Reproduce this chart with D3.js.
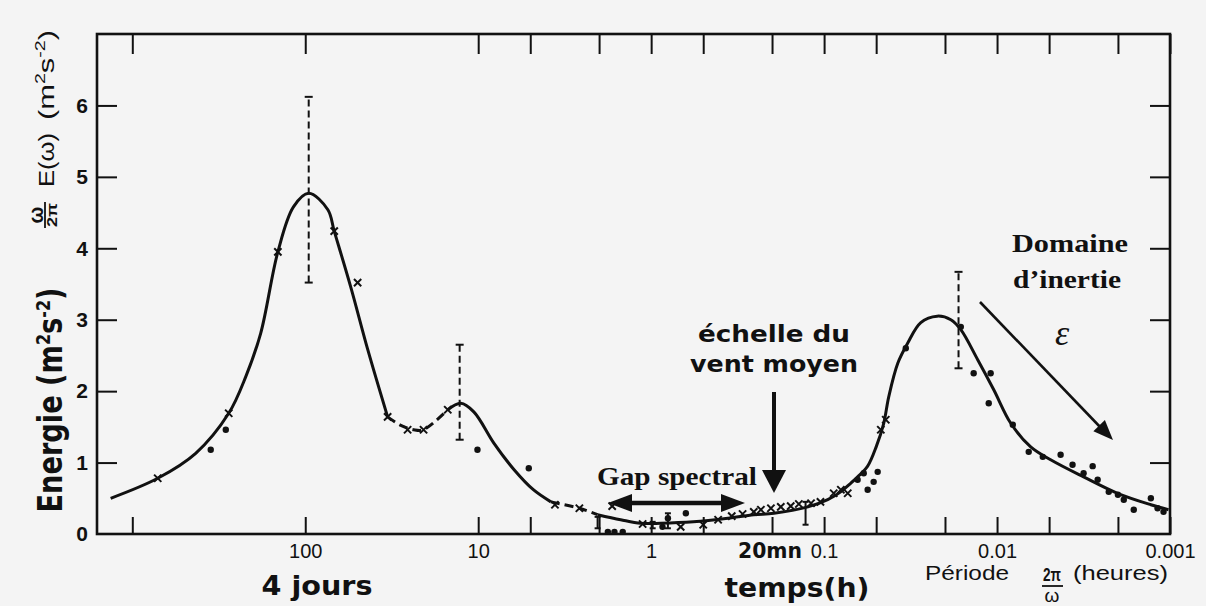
<!DOCTYPE html>
<html><head><meta charset="utf-8">
<script src="https://cdn.jsdelivr.net/npm/d3@7"></script>
<style>body{margin:0;background:#f4f4f4;} svg{display:block}</style>
</head><body><svg id="c" width="1206" height="606"></svg>
<script>
// ---- data (period in hours, energy in m2 s-2) ----
const curvePeriod = [1334, 713, 430, 277, 221, 181, 144, 117, 95.5, 74, 68, 54.6, 43.5, 33.4, 28, 23.6, 20.7, 15.0, 12.6, 10.6, 8.1, 6.2, 4.8, 3.8, 2.6, 2.04, 1.50, 1.15, 0.88, 0.57, 0.36, 0.255, 0.195, 0.124, 0.0953, 0.0802, 0.0702, 0.064, 0.056, 0.050, 0.0452, 0.0423, 0.0375, 0.0329, 0.0276, 0.0222, 0.0185, 0.0162, 0.01294, 0.01045, 0.00833, 0.00639, 0.0049, 0.00316, 0.00201, 0.00129, 0.00102];
const curveEnergy = [0.50, 0.78, 1.13, 1.69, 2.20, 2.81, 3.95, 4.58, 4.77, 4.54, 4.24, 3.46, 2.58, 1.64, 1.52, 1.46, 1.46, 1.74, 1.83, 1.71, 1.27, 0.90, 0.62, 0.45, 0.36, 0.27, 0.20, 0.15, 0.15, 0.17, 0.22, 0.27, 0.29, 0.38, 0.48, 0.59, 0.71, 0.80, 0.95, 1.22, 1.55, 1.92, 2.39, 2.67, 2.96, 3.05, 3.00, 2.86, 2.44, 2.02, 1.55, 1.22, 1.04, 0.80, 0.57, 0.41, 0.34];
const dashedRanges = [[33.4, 15.0], [3.8, 2.04]];

const dotPeriod = [352, 288, 10.1, 5.1, 1.78, 1.63, 1.46, 0.80, 0.63, 0.86, 0.064, 0.059, 0.056, 0.0517, 0.049, 0.0337, 0.0162, 0.01365, 0.01089, 0.01117, 0.00811, 0.00656, 0.00544, 0.00429, 0.00366, 0.00316, 0.0028, 0.00262, 0.00226, 0.0020, 0.00185, 0.00162, 0.00129, 0.00118, 0.00109];
const dotEnergy = [1.18, 1.46, 1.18, 0.92, 0.03, 0.03, 0.03, 0.22, 0.29, 0.10, 0.76, 0.85, 0.62, 0.73, 0.87, 2.60, 2.90, 2.25, 2.25, 1.83, 1.53, 1.15, 1.08, 1.11, 0.97, 0.85, 0.95, 0.76, 0.59, 0.55, 0.48, 0.34, 0.50, 0.36, 0.31];

const crossPeriod = [713, 277, 144, 68, 49.8, 33.4, 25.6, 20.7, 15.0, 3.6, 2.6, 1.68, 1.12, 0.675, 0.50, 0.41, 0.342, 0.296, 0.255, 0.232, 0.203, 0.178, 0.156, 0.140, 0.119, 0.105, 0.088, 0.080, 0.073, 0.047, 0.044];
const crossEnergy = [0.78, 1.69, 3.95, 4.24, 3.52, 1.64, 1.46, 1.46, 1.74, 0.41, 0.36, 0.39, 0.14, 0.10, 0.13, 0.20, 0.25, 0.28, 0.31, 0.34, 0.36, 0.38, 0.39, 0.42, 0.43, 0.45, 0.57, 0.62, 0.57, 1.46, 1.60];

const bigErrPeriod = [95.5, 12.8, 0.0167];
const bigErrLow = [3.52, 1.32, 2.32];
const bigErrHigh = [6.12, 2.65, 3.67];

const smallErrPeriod = [2.04, 0.98, 0.80, 0.128];
const smallErrLow = [0.08, 0.08, 0.08, 0.13];
const smallErrHigh = [0.24, 0.17, 0.29, 0.45];

const xTickValues = [1000, 100, 10, 5, 2, 1, 0.5, 0.2, 0.1, 0.05, 0.02, 0.01, 0.005, 0.002, 0.001];
const xTickLabels = ["", "100", "10", "", "", "1", "", "", "0.1", "", "", "0.01", "", "", "0.001"];
const yTickValues = [0, 1, 2, 3, 4, 5, 6];

// ---- scales ----
const svg = d3.select("#c");
const x = d3.scaleLog().domain([1600, 0.001]).range([97, 1170]);
const y = d3.scaleLinear().domain([0, 7]).range([534, 34]);
const INK = "#111";

// frame
svg.append("rect").attr("x", 97).attr("y", 34).attr("width", 1170 - 97).attr("height", 500)
  .attr("fill", "none").attr("stroke", INK).attr("stroke-width", 2.6);

// axes
const labelOf = v => xTickLabels[xTickValues.indexOf(v)];
const gxb = svg.append("g").attr("transform", "translate(0,534)")
  .call(d3.axisBottom(x).tickValues(xTickValues).tickSizeInner(-17).tickSizeOuter(0).tickPadding(10).tickFormat(labelOf));
const gxt = svg.append("g").attr("transform", "translate(0,34)")
  .call(d3.axisTop(x).tickValues(xTickValues).tickSizeInner(-20).tickSizeOuter(0).tickFormat(""));
const gyl = svg.append("g").attr("transform", "translate(97,0)")
  .call(d3.axisLeft(y).tickValues(yTickValues).tickSizeInner(-20).tickSizeOuter(0).tickPadding(9).tickFormat(d3.format("d")));
const gyr = svg.append("g").attr("transform", "translate(1170,0)")
  .call(d3.axisRight(y).tickValues(yTickValues.slice(1)).tickSizeInner(-20).tickSizeOuter(0).tickFormat(""));
[gxb, gxt, gyl, gyr].forEach(g => {
  g.select(".domain").remove();
  g.selectAll(".tick line").attr("stroke", INK).attr("stroke-width", 2);
});
gxb.selectAll(".tick text").attr("font-family", "Liberation Sans, Arial, sans-serif").attr("font-size", 20).attr("fill", INK);
gyl.selectAll(".tick text").attr("font-family", "Liberation Sans, Arial, sans-serif").attr("font-size", 21).attr("font-weight", "bold").attr("fill", INK);
gyl.selectAll(".tick").filter(d => d === 0).select("line").remove();

// curve
const pts = curvePeriod.map((p, i) => ({p, e: curveEnergy[i]}));
const line = d3.line().x(d => x(d.p)).y(d => y(d.e)).curve(d3.curveCatmullRom.alpha(0.5));
const cuts = [pts[0].p, ...dashedRanges.flat(), pts[pts.length - 1].p];
for (let k = 0; k < cuts.length - 1; k++) {
  const hi = cuts[k], lo = cuts[k + 1];
  const seg = pts.filter(d => d.p <= hi && d.p >= lo);
  svg.append("path").attr("d", line(seg)).attr("fill", "none").attr("stroke", INK)
    .attr("stroke-width", 3).attr("stroke-linejoin", "round")
    .attr("stroke-dasharray", k % 2 === 1 ? "9,5" : null);
}

// big dashed error bars
bigErrPeriod.forEach((p, i) => {
  const g = svg.append("g").attr("stroke", INK).attr("stroke-width", 2);
  g.append("line").attr("x1", x(p)).attr("x2", x(p)).attr("y1", y(bigErrLow[i])).attr("y2", y(bigErrHigh[i]))
    .attr("stroke-dasharray", "7,4");
  [bigErrLow[i], bigErrHigh[i]].forEach(v => g.append("line").attr("x1", x(p) - 4).attr("x2", x(p) + 4).attr("y1", y(v)).attr("y2", y(v)));
});
// small solid error bars
smallErrPeriod.forEach((p, i) => {
  const g = svg.append("g").attr("stroke", INK).attr("stroke-width", 2);
  g.append("line").attr("x1", x(p)).attr("x2", x(p)).attr("y1", y(smallErrLow[i])).attr("y2", y(smallErrHigh[i]));
  [smallErrLow[i], smallErrHigh[i]].forEach(v => g.append("line").attr("x1", x(p) - 3).attr("x2", x(p) + 3).attr("y1", y(v)).attr("y2", y(v)));
});

// dots
svg.append("g").selectAll("circle").data(dotPeriod).join("circle")
  .attr("cx", d => x(d)).attr("cy", (d, i) => y(dotEnergy[i])).attr("r", 3.2).attr("fill", INK);
// crosses
const sym = d3.symbol().type(d3.symbolX).size(36);
svg.append("g").selectAll("path").data(crossPeriod).join("path")
  .attr("transform", (d, i) => `translate(${x(d)},${y(crossEnergy[i])})`)
  .attr("d", sym).attr("fill", "none").attr("stroke", INK).attr("stroke-width", 2);

// ---- texts ----
const HEAVY = "DejaVu Sans, Liberation Sans, sans-serif";
const SERIF = "Liberation Serif, Times New Roman, serif";
const SANS = "Liberation Sans, Arial, sans-serif";
function txt(s, px, py, size, fam, weight, len, anchor) {
  const t = svg.append("text").attr("x", px).attr("y", py).attr("font-size", size)
    .attr("font-family", fam).attr("font-weight", weight || "normal").attr("fill", INK)
    .attr("text-anchor", anchor || "middle").text(s);
  if (len) t.attr("textLength", len).attr("lengthAdjust", "spacingAndGlyphs");
  return t;
}
txt("4 jours", 317, 595, 26, HEAVY, "bold", 111);
txt("temps(h)", 797, 597, 26, HEAVY, "bold", 145);
txt("20mn", 770, 558, 21, HEAVY, "bold", 64);
txt("Période", 925, 580, 20, SANS, "normal", 84, "start");
txt("(heures)", 1073, 580, 20, SANS, "normal", 95, "start");
txt("2π", 1052, 581, 18, SANS, "bold", 18);
svg.append("line").attr("x1", 1042).attr("x2", 1063).attr("y1", 586).attr("y2", 586).attr("stroke", INK).attr("stroke-width", 1.8);
txt("ω", 1052, 602, 19, SANS, "normal");

txt("échelle du", 774, 342, 23, HEAVY, "bold", 152);
txt("vent moyen", 774, 372, 23, HEAVY, "bold", 168);
txt("Gap spectral", 677, 485, 26, SERIF, "bold", 160);
txt("Domaine", 1070, 252, 26, SERIF, "bold", 116);
txt("d’inertie", 1067, 288, 26, SERIF, "bold", 108);
txt("ε", 1062, 345, 36, SERIF, "normal").attr("font-style", "italic");

// arrows
function head(tx, ty, ang, len, half) {
  const c = Math.cos(ang), s = Math.sin(ang);
  const bx = tx - c * len, by = ty - s * len;
  svg.append("path").attr("d", `M${tx},${ty}L${bx - s * half},${by + c * half}L${bx + s * half},${by - c * half}Z`).attr("fill", INK);
}
svg.append("line").attr("x1", 625).attr("x2", 730).attr("y1", 503).attr("y2", 503).attr("stroke", INK).attr("stroke-width", 4.5);
head(608, 503, Math.PI, 24, 9);
head(745, 503, 0, 24, 9);
svg.append("line").attr("x1", 774).attr("x2", 774).attr("y1", 392).attr("y2", 472).attr("stroke", INK).attr("stroke-width", 4);
head(774, 493, Math.PI / 2, 23, 12);
const ang = Math.atan2(440 - 302, 1113 - 980);
svg.append("line").attr("x1", 980).attr("y1", 302).attr("x2", 1103).attr("y2", 430).attr("stroke", INK).attr("stroke-width", 2.6);
head(1113, 440, ang, 20, 8);

// y title (bold)
const yt = svg.append("text").attr("transform", "translate(62,400) rotate(-90)")
  .attr("text-anchor", "middle").attr("font-family", HEAVY).attr("font-weight", "bold")
  .attr("font-size", 34).attr("fill", INK).attr("textLength", 225).attr("lengthAdjust", "spacingAndGlyphs");
yt.append("tspan").text("Energie (m");
yt.append("tspan").attr("dy", -12).attr("font-size", 20).text("2");
yt.append("tspan").attr("dy", 12).text("s");
yt.append("tspan").attr("dy", -12).attr("font-size", 20).text("-2");
yt.append("tspan").attr("dy", 12).text(")");

// upper y title  ω/2π E(ω) (m2 s-2)
const g2 = svg.append("g").attr("transform", "translate(54,230) rotate(-90)").attr("fill", INK).attr("font-family", SANS);
g2.append("text").attr("x", 15).attr("y", -11).attr("font-size", 20).attr("font-weight", "bold").attr("text-anchor", "middle").text("ω");
g2.append("line").attr("x1", 2).attr("x2", 28).attr("y1", -9).attr("y2", -9).attr("stroke", INK).attr("stroke-width", 1.8);
g2.append("text").attr("x", 15).attr("y", 3).attr("font-size", 15).attr("font-weight", "bold").attr("text-anchor", "middle")
  .attr("textLength", 24).attr("lengthAdjust", "spacingAndGlyphs").text("2π");
g2.append("text").attr("x", 43).attr("y", 0).attr("font-size", 22).attr("textLength", 54).attr("lengthAdjust", "spacingAndGlyphs").text("E(ω)");
const u2 = g2.append("text").attr("x", 110).attr("y", 0).attr("font-size", 22).attr("textLength", 90).attr("lengthAdjust", "spacingAndGlyphs");
u2.append("tspan").text("(m");
u2.append("tspan").attr("dy", -9).attr("font-size", 14).text("2");
u2.append("tspan").attr("dy", 9).text("s");
u2.append("tspan").attr("dy", -9).attr("font-size", 14).text("-2");
u2.append("tspan").attr("dy", 9).text(")");
</script>
</body></html>
